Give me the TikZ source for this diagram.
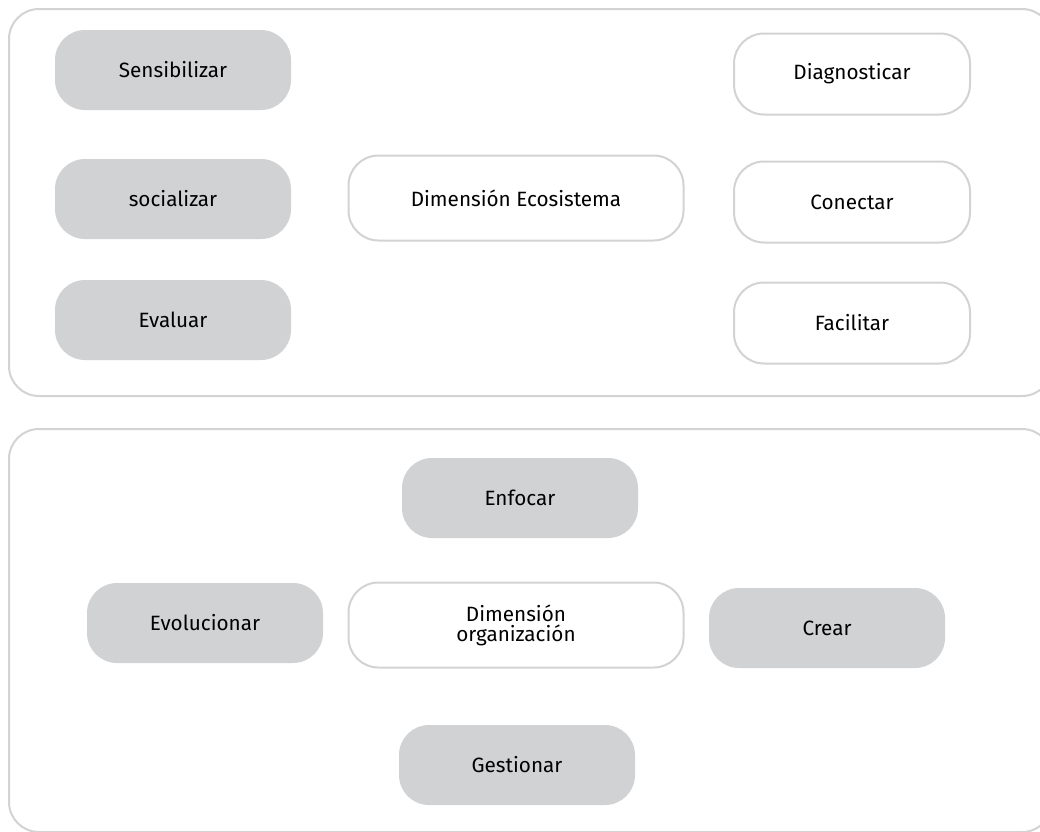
\documentclass[tikz,border=0pt]{standalone}
\usepackage{fontspec}
\setmainfont{Fira Sans}
\usetikzlibrary{calc}

\definecolor{boxgray}{HTML}{D1D2D4}
\definecolor{linegray}{HTML}{D3D3D3}

\tikzset{
  panel/.style={draw=linegray, line width=2pt, rounded corners=30pt},
  graybox/.style={fill=boxgray, rounded corners=30pt, minimum width=236pt,
    minimum height=80pt, align=center, font=\fontsize{20.7}{23}\selectfont, text=black},
  whitebox/.style={draw=linegray, line width=2pt, fill=white, rounded corners=30pt,
    minimum width=236pt, minimum height=80pt, align=center,
    font=\fontsize{20.7}{23}\selectfont, text=black},
}

\begin{document}
\begin{tikzpicture}[x=1pt, y=-1pt]
\useasboundingbox (0,0) rectangle (1040,831);
\clip (0,0) rectangle (1040,831);
% outer panels
\draw[panel] (9,9) rectangle (1052,396);
\draw[panel] (9,429) rectangle (1052,832);

% Dimension Ecosistema
\node[graybox] (sens) at (173,70) {Sensibilizar};
\node[graybox] (soc) at (173,199) {socializar};
\node[graybox] (eval) at (173,320) {Evaluar};
\node[whitebox, minimum width=335pt, minimum height=85pt] (eco) at (516,198) {Dimensión Ecosistema};
\foreach \name/\txt/\y in {diag/Diagnosticar/74, con/Conectar/202, fac/Facilitar/323} {
  \node[whitebox, minimum height=81pt] (\name) at (852,\y) {\txt};
}

% Dimension organizacion
\node[graybox] (enf) at (520,498) {Enfocar};
\node[graybox] (evo) at (205,623) {Evolucionar};
\node[whitebox, minimum width=335pt, minimum height=85pt] (org) at (516,625) {Dimensión\\[-3pt] organización};
\node[graybox] (crear) at (827,628) {Crear};
\node[graybox] (gest) at (517,765) {Gestionar};
\end{tikzpicture}
\end{document}
